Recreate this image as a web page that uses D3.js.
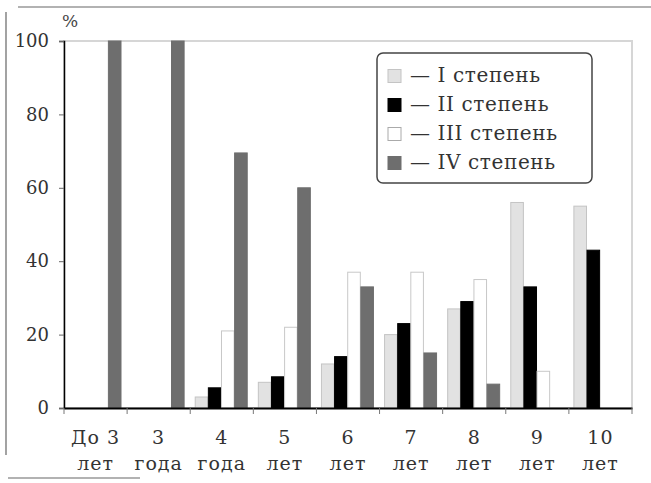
<!DOCTYPE html>
<html><head><meta charset="utf-8">
<script src="https://cdn.jsdelivr.net/npm/d3@7"></script>
<style>body{margin:0;background:#fff}</style>
</head><body><svg id="c" width="651" height="483"></svg>
<script>
const categories = [["До 3","лет"],["3","года"],["4","года"],["5","лет"],["6","лет"],["7","лет"],["8","лет"],["9","лет"],["10","лет"]];
const seriesNames = ["I степень","II степень","III степень","IV степень"];
const s1 = [0, 0, 3, 7, 12, 20, 27, 56, 55];
const s2 = [0, 0, 5.5, 8.5, 14, 23, 29, 33, 43];
const s3 = [0, 0, 21, 22, 37, 37, 35, 10, 0];
const s4 = [100, 100, 69.5, 60, 33, 15, 6.5, 0, 0];
const yTicks = [0, 20, 40, 60, 80, 100];

const series = [s1, s2, s3, s4];
const fills = ["#e2e2e2", "#000000", "#ffffff", "#6e6e6e"];
const strokes = ["#c4c4c4", "#000000", "#c8c8c8", "#6e6e6e"];

const svg = d3.select("#c");
const L = 64, R = 632, T = 41, B = 408;
const keys = categories.map(c => c.join(" "));
const x = d3.scaleBand().domain(keys).range([L, R]);
const xi = d3.scaleBand().domain(d3.range(4)).range([5, 57]).paddingInner(0.04);
const y = d3.scaleLinear().domain([0, 100]).range([B, T]);
const font = "DejaVu Serif";

// scan frame
svg.append("path").attr("d", "M18,7H651M6,12V455M8,478H140").attr("fill","none").attr("stroke","#666").attr("stroke-width",1.2);

// plot frame
svg.append("rect").attr("x", L).attr("y", T).attr("width", R - L).attr("height", B - T)
  .attr("fill", "none").attr("stroke", "#d6d6d6").attr("stroke-width", 2);

// bars
series.forEach((vals, si) => {
  svg.append("g").selectAll("rect").data(vals.map((v, i) => ({v, k: keys[i]})).filter(d => d.v > 0))
    .join("rect")
    .attr("x", d => x(d.k) + xi(si))
    .attr("y", d => y(d.v))
    .attr("width", xi.bandwidth())
    .attr("height", d => B - y(d.v))
    .attr("fill", fills[si]).attr("stroke", strokes[si]).attr("stroke-width", 1);
});

// y axis
const ya = svg.append("g").attr("transform", `translate(${L},0)`)
  .call(d3.axisLeft(y).tickValues(yTicks).tickSize(5).tickPadding(10));
ya.select(".domain").attr("stroke", "#000").attr("stroke-width", 1.5);
ya.selectAll(".tick line").attr("stroke", "#666");
ya.selectAll("text").attr("font-family", font).attr("font-size", 18).attr("fill", "#333");

// x axis
const xa = svg.append("g").attr("transform", `translate(0,${B})`)
  .call(d3.axisBottom(x).tickSize(0).tickFormat(""));
xa.select(".domain").attr("stroke", "#000").attr("stroke-width", 1.8);
svg.append("g").selectAll("line").data(d3.range(keys.length + 1)).join("line")
  .attr("x1", i => L + i * x.bandwidth()).attr("x2", i => L + i * x.bandwidth())
  .attr("y1", B).attr("y2", B + 6).attr("stroke", "#777");
const xl = svg.append("g").selectAll("text").data(categories).join("text")
  .attr("x", (d, i) => x(keys[i]) + x.bandwidth() / 2)
  .attr("text-anchor", "middle").attr("font-family", font).attr("font-size", 19)
  .attr("letter-spacing", 1).attr("fill", "#333");
xl.append("tspan").attr("x", (d, i) => x(keys[i]) + x.bandwidth() / 2).attr("y", 444).text(d => d[0]);
xl.append("tspan").attr("x", (d, i) => x(keys[i]) + x.bandwidth() / 2).attr("y", 470).text(d => d[1]);

// unit
svg.append("text").attr("x", 70).attr("y", 27).attr("text-anchor", "middle")
  .attr("font-family", font).attr("font-size", 17).attr("fill", "#444").text("%");

// legend
const lg = svg.append("g");
lg.append("rect").attr("x", 377).attr("y", 53).attr("width", 215).attr("height", 130).attr("rx", 6)
  .attr("fill", "#fff").attr("stroke", "#444").attr("stroke-width", 1.5);
seriesNames.forEach((n, i) => {
  const cy = 76 + i * 29;
  lg.append("rect").attr("x", 388).attr("y", cy - 6.5).attr("width", 13).attr("height", 13)
    .attr("fill", fills[i]).attr("stroke", i === 2 ? "#aaa" : strokes[i]);
  lg.append("text").attr("x", 410).attr("y", cy + 6).attr("font-family", font).attr("font-size", 20)
    .attr("letter-spacing", 0.6).attr("fill", "#333").text("— " + n);
});
</script></body></html>
